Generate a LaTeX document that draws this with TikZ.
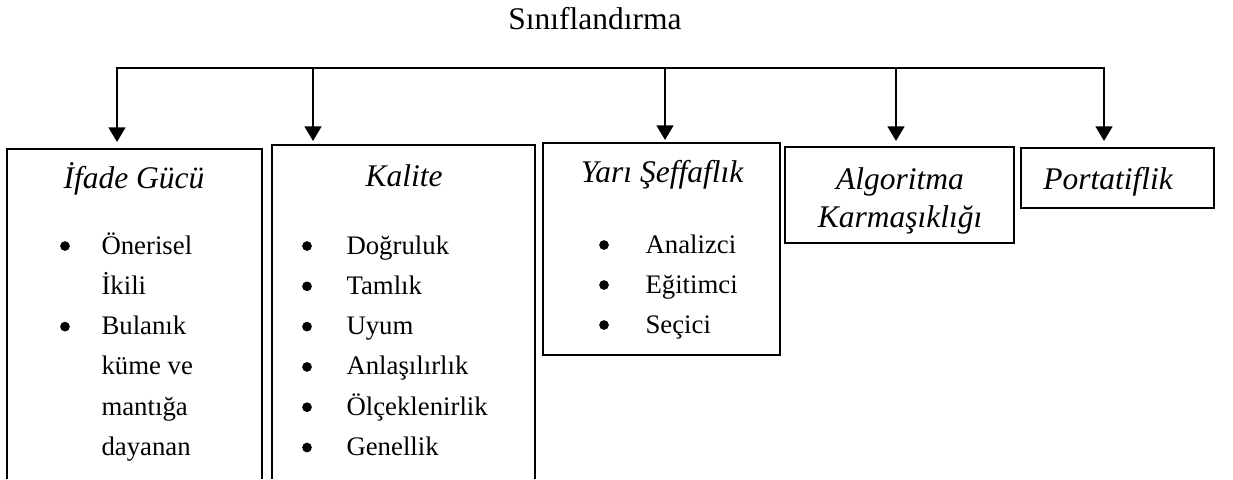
\documentclass[tikz,border=0pt]{standalone}
\usepackage{fontspec}
\setmainfont{Liberation Serif}
\usetikzlibrary{arrows.meta}
\begin{document}
\begin{tikzpicture}[x=0.381pt,y=-0.381pt,
  frame/.style={line width=0.85pt},
  tip/.tip={Triangle[width=6.4pt,length=5.6pt]},
  link/.style={line width=0.85pt,-tip},
  head/.style={font=\fontsize{12}{14}\selectfont\itshape, anchor=base, inner sep=0pt},
  title/.style={font=\fontsize{12}{14}\selectfont, anchor=base, inner sep=0pt},
  item/.style={font=\fontsize{10.2}{12}\selectfont, anchor=base west, inner sep=0pt},
  dot/.style={circle, fill, draw=none, inner sep=0pt, minimum size=3.7pt}]
\useasboundingbox (0,0) rectangle (1233,479);

% title
\node[title] (root) at (595,29) {Sınıflandırma};

% box outlines (the first two run on past the lower edge)
\draw[frame] (7,479) -- (7,149) -- (262,149) -- (262,479);
\draw[frame] (272,479) -- (272,145) -- (535,145) -- (535,479);
\draw[frame] (543,143) rectangle (780,355);
\draw[frame] (785,147) rectangle (1014,243);
\draw[frame] (1021,148) rectangle (1214,208);

% bus and arrows
\coordinate (busL) at (117,68);
\coordinate (busR) at (1104,68);
\coordinate (j2) at (313,68);
\coordinate (j3) at (665,68);
\coordinate (j4) at (896,68);
\coordinate (t1) at (117,142);
\coordinate (t2) at (313,141);
\coordinate (t3) at (665,140);
\coordinate (t4) at (896,141);
\coordinate (t5) at (1104,141);
\draw[link, tip-tip] (t1) -- (busL) -- (busR) -- (t5);
\draw[link] (j2) -- (t2);
\draw[link] (j3) -- (t3);
\draw[link] (j4) -- (t4);

% headings
\node[head] (h1) at (134,188) {İfade Gücü};
\node[head] (h2) at (404,186) {Kalite};
\node[head] (h3) at (662,182) {Yarı Şeffaflık};
\node[head] (h4a) at (900,189) {Algoritma};
\node[head] (h4b) at (900,227) {Karmaşıklığı};
\node[head] (h5) at (1108,189) {Portatiflik};

% first list
\node[dot] (d11) at (65,246) {};
\node[item] (i11) at (101,254) {Önerisel};
\node[item] (i12) at (101,294.2) {İkili};
\node[dot] (d12) at (65,326.6) {};
\node[item] (i13) at (101,334.6) {Bulanık};
\node[item] (i14) at (101,374.8) {küme ve};
\node[item] (i15) at (101,415) {mantığa};
\node[item] (i16) at (101,455.2) {dayanan};

% second list
\foreach \t [count=\k] in {Doğruluk,Tamlık,Uyum,Anlaşılırlık,Ölçeklenirlik,Genellik}{
  \node[dot] (d2\k) at (307,{246+40.3*(\k-1)}) {};
  \node[item] (i2\k) at (346,{254+40.3*(\k-1)}) {\t};
}

% third list
\foreach \t [count=\k] in {Analizci,Eğitimci,Seçici}{
  \node[dot] (d3\k) at (604,{245+40*(\k-1)}) {};
  \node[item] (i3\k) at (645,{253+40*(\k-1)}) {\t};
}
\end{tikzpicture}
\end{document}
